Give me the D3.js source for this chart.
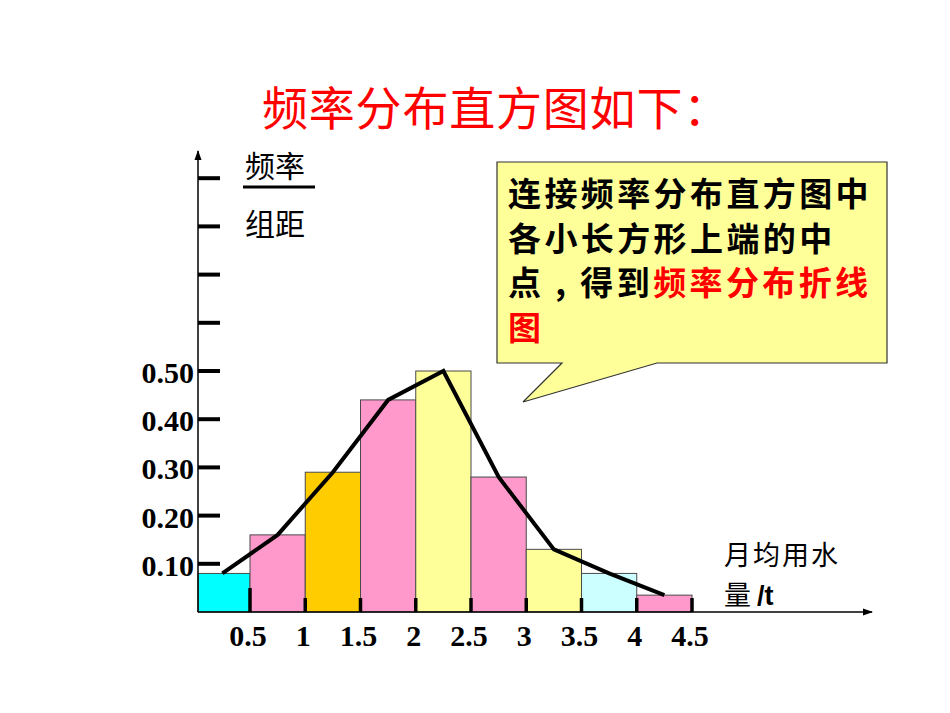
<!DOCTYPE html>
<html>
<head>
<meta charset="utf-8">
<script src="https://cdn.jsdelivr.net/npm/d3@7/dist/d3.min.js"></script>
<style>
  html, body { margin: 0; padding: 0; background: #fff; }
  svg { display: block; }
</style>
</head>
<body>
<svg id="chart" width="950" height="713"></svg>
<script>
// ---- data ----
const binEdges = [0, 0.5, 1, 1.5, 2, 2.5, 3, 3.5, 4, 4.5];
const density = [0.08, 0.16, 0.29, 0.44, 0.50, 0.28, 0.13, 0.08, 0.035];
const barColors = ["#00FFFF", "#FF99CC", "#FFCC00", "#FF99CC", "#FFFF99", "#FF99CC", "#FFFF99", "#CCFFFF", "#FF99CC"];
const xTickValues = [0.5, 1, 1.5, 2, 2.5, 3, 3.5, 4, 4.5];
const xTickLabels = ["0.5", "1", "1.5", "2", "2.5", "3", "3.5", "4", "4.5"];
const yTickValues = [0.1, 0.2, 0.3, 0.4, 0.5, 0.6, 0.7, 0.8, 0.9];
const yTickLabels = ["0.10", "0.20", "0.30", "0.40", "0.50", "", "", "", ""];
const titleText = "频率分布直方图如下：";
const yLabelTop = "频率";
const yLabelBottom = "组距";
const xLabelLine1 = "月均用水";
const xLabelLine2a = "量 ";
const xLabelLine2b = "/t";
const noteLines = [
  [["连接频率分布直方图中", "#000"]],
  [["各小长方形上端的中", "#000"]],
  [["点 , ", "#000"], ["得到", "#000"], ["频率分布折线", "#FF0000"]],
  [["图", "#FF0000"]]
];

// ---- setup ----
const svg = d3.select("#chart");
const cjk = "'Noto Sans CJK SC', 'Noto Sans', sans-serif";
const serif = "'Liberation Serif', 'DejaVu Serif', serif";

const axisX = 198;
const x = d3.scaleLinear().domain([0.5, 4.5]).range([250, 692]);
const y = d3.scaleLinear().domain([0, 1]).range([612, 130]);

const bins = density.map((v, i) => ({ lo: binEdges[i], hi: binEdges[i + 1], v, c: barColors[i] }));

// title
svg.append("text")
  .attr("x", 262).attr("y", 125)
  .attr("font-family", cjk).attr("font-size", 46)
  .attr("letter-spacing", 0.8)
  .attr("fill", "#FF0000")
  .text(titleText);

// bars
svg.append("g").selectAll("rect")
  .data(bins).join("rect")
  .attr("x", d => Math.max(x(d.lo), axisX))
  .attr("y", d => y(d.v))
  .attr("width", d => x(d.hi) - Math.max(x(d.lo), axisX))
  .attr("height", d => y(0) - y(d.v))
  .attr("fill", d => d.c)
  .attr("stroke", "#4a4a4a")
  .attr("stroke-width", 1);

// axes with arrows
svg.append("defs").append("marker")
  .attr("id", "arrow").attr("viewBox", "0 0 10 10")
  .attr("refX", 9).attr("refY", 5)
  .attr("markerWidth", 10).attr("markerHeight", 10)
  .attr("markerUnits", "userSpaceOnUse")
  .attr("orient", "auto")
  .append("path").attr("d", "M0,1.5 L10,5 L0,8.5 Z").attr("fill", "#000");

svg.append("line")
  .attr("x1", axisX).attr("y1", y(0)).attr("x2", 872).attr("y2", y(0))
  .attr("stroke", "#000").attr("stroke-width", 1.5)
  .attr("marker-end", "url(#arrow)");
svg.append("line")
  .attr("x1", axisX).attr("y1", y(0)).attr("x2", axisX).attr("y2", 151)
  .attr("stroke", "#000").attr("stroke-width", 1.5)
  .attr("marker-end", "url(#arrow)");

// x ticks
const xt = svg.append("g");
xt.selectAll("line").data(xTickValues).join("line")
  .attr("x1", d => x(d)).attr("x2", d => x(d))
  .attr("y1", (d, i) => y(0) - (i === 0 ? 24 : 14)).attr("y2", y(0))
  .attr("stroke", "#000").attr("stroke-width", 3.5);
xt.selectAll("text").data(xTickValues).join("text")
  .attr("x", d => x(d) - 2).attr("y", 646)
  .attr("text-anchor", "middle")
  .attr("font-family", serif).attr("font-weight", "bold").attr("font-size", 30)
  .attr("fill", "#000")
  .text((d, i) => xTickLabels[i]);

// y ticks
const yt = svg.append("g");
yt.selectAll("line").data(yTickValues).join("line")
  .attr("x1", axisX).attr("x2", axisX + 22)
  .attr("y1", d => y(d)).attr("y2", d => y(d))
  .attr("stroke", "#000").attr("stroke-width", 4);
yt.selectAll("text").data(yTickValues).join("text")
  .attr("x", 194).attr("y", d => y(d) + 12)
  .attr("text-anchor", "end")
  .attr("font-family", serif).attr("font-weight", "bold").attr("font-size", 30)
  .attr("fill", "#000")
  .text((d, i) => yTickLabels[i]);

// frequency polygon through bar top midpoints
const line = d3.line().x(d => x((d.lo + d.hi) / 2)).y(d => y(d.v));
svg.append("path")
  .datum(bins)
  .attr("d", line)
  .attr("fill", "none")
  .attr("stroke", "#000")
  .attr("stroke-width", 4)
  .attr("stroke-linejoin", "miter");

// y label (fraction)
svg.append("text").attr("x", 245).attr("y", 177)
  .attr("font-family", cjk).attr("font-size", 30).attr("fill", "#000")
  .text(yLabelTop);
svg.append("line").attr("x1", 243).attr("x2", 315).attr("y1", 187).attr("y2", 187)
  .attr("stroke", "#000").attr("stroke-width", 3);
svg.append("text").attr("x", 245).attr("y", 235)
  .attr("font-family", cjk).attr("font-size", 30).attr("fill", "#000")
  .text(yLabelBottom);

// x label
svg.append("text").attr("x", 724).attr("y", 565)
  .attr("font-family", cjk).attr("font-size", 27).attr("letter-spacing", 2)
  .attr("fill", "#000")
  .text(xLabelLine1);
const xl2 = svg.append("text").attr("x", 724).attr("y", 605)
  .attr("font-family", cjk).attr("font-size", 27).attr("fill", "#000");
xl2.append("tspan").text(xLabelLine2a);
xl2.append("tspan").attr("font-family", "'Liberation Sans', Arial, sans-serif")
  .attr("font-weight", "bold").text(xLabelLine2b);

// callout
const callout = d3.path();
callout.moveTo(497, 162);
callout.lineTo(887, 162);
callout.lineTo(887, 363);
callout.lineTo(657, 363);
callout.lineTo(523, 402);
callout.lineTo(562, 363);
callout.lineTo(497, 363);
callout.closePath();
svg.append("path").attr("d", callout.toString())
  .attr("fill", "#FFFF99").attr("stroke", "#333").attr("stroke-width", 1.2);

const noteG = svg.append("g");
noteLines.forEach((segs, i) => {
  const t = noteG.append("text")
    .attr("x", 508).attr("y", 206 + i * 44.5)
    .attr("font-family", cjk).attr("font-size", 33).attr("font-weight", "bold")
    .attr("letter-spacing", 3.4);
  segs.forEach(s => t.append("tspan").attr("fill", s[1]).text(s[0]));
});
</script>
</body>
</html>
